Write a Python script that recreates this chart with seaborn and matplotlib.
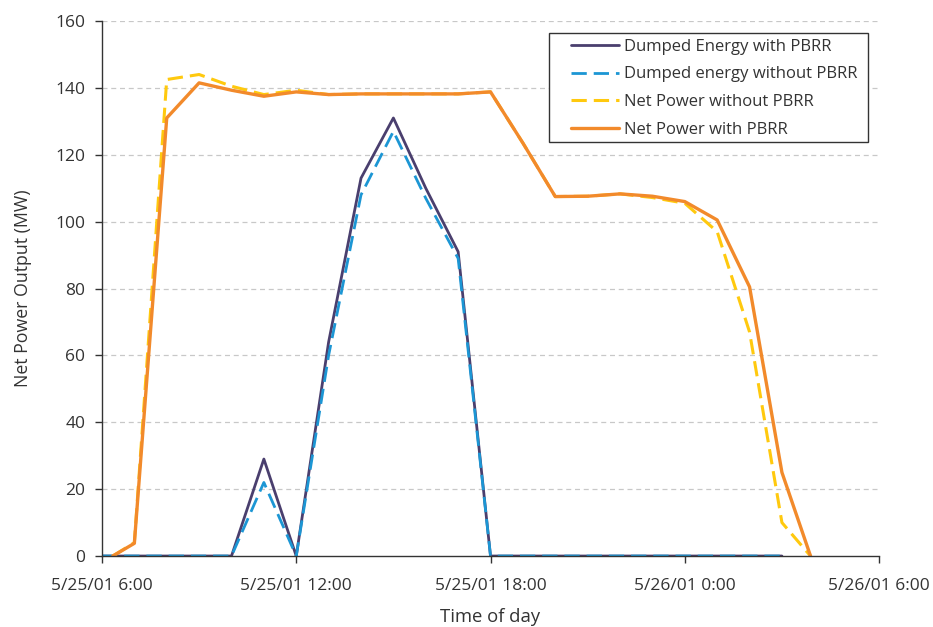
import pandas as pd
import numpy as np
import matplotlib.pyplot as plt
import seaborn as sns
from matplotlib.patches import Rectangle

# hourly samples, 5/25/01 6:00 .. 5/26/01 3:00
dump_times = pd.date_range("2001-05-25 06:00", "2001-05-26 03:00", freq="h")
dumped_with = [0, 0, 0, 0, 0, 29, 0, 64, 113, 131, 110, 91, 0,
               0, 0, 0, 0, 0, 0, 0, 0, 0]
dumped_without = [0, 0, 0, 0, 0, 22, 0, 60, 108, 127, 107, 89, 0,
                  0, 0, 0, 0, 0, 0, 0, 0, 0]

net_times = pd.to_datetime([
    "2001-05-25 06:20", "2001-05-25 07:00", "2001-05-25 08:00", "2001-05-25 09:00",
    "2001-05-25 10:00", "2001-05-25 11:00", "2001-05-25 12:00", "2001-05-25 13:00",
    "2001-05-25 14:00", "2001-05-25 15:00", "2001-05-25 16:00", "2001-05-25 17:00",
    "2001-05-25 18:00", "2001-05-25 19:00", "2001-05-25 20:00", "2001-05-25 21:00",
    "2001-05-25 22:00", "2001-05-25 23:00", "2001-05-26 00:00", "2001-05-26 01:00",
    "2001-05-26 02:00", "2001-05-26 03:00", "2001-05-26 03:53",
])
net_without = [0, 4, 142.5, 144, 140.5, 138, 139.3, 138, 138.2, 138.2, 138.2, 138.2,
               138.8, 123.5, 107.5, 107.6, 108.3, 107.2, 105.5, 97, 67, 10, 0]
net_with = [0, 3.8, 131, 141.5, 139.3, 137.5, 138.8, 138, 138.2, 138.2, 138.2, 138.2,
            138.8, 123.5, 107.5, 107.6, 108.3, 107.6, 106, 100.5, 80.5, 25, 0]

tick_times = pd.date_range("2001-05-25 06:00", "2001-05-26 06:00", freq="6h")
tick_labels = ["5/25/01 6:00", "5/25/01 12:00", "5/25/01 18:00",
               "5/26/01 0:00", "5/26/01 6:00"]

sns.set_style("white")
plt.rcParams['font.family'] = ['Open Sans', 'DejaVu Sans']

W, H = 933, 627
fig = plt.figure(figsize=(W / 100, H / 100), dpi=100)
ax = fig.add_axes([0.1093, 0.1132, 0.8329, 0.8533])

for y in range(20, 161, 20):
    ax.axhline(y, color="#c8c8c8", lw=0.9, ls=(0, (4, 3)), zorder=0)

sns.lineplot(x=dump_times, y=dumped_with, ax=ax, color="#4a3f6e", lw=2.0,
             label="Dumped Energy with PBRR")
sns.lineplot(x=dump_times, y=dumped_without, ax=ax, color="#1c96d4", lw=2.0,
             label="Dumped energy without PBRR")
ax.lines[-1].set_dashes((5.5, 2.5))
sns.lineplot(x=net_times, y=net_without, ax=ax, color="#ffc90e", lw=2.2,
             label="Net Power without PBRR")
ax.lines[-1].set_dashes((5, 2.3))
sns.lineplot(x=net_times, y=net_with, ax=ax, color="#f28a2b", lw=2.4,
             label="Net Power with PBRR")

ax.set_xlim(tick_times[0], tick_times[-1])
ax.set_ylim(0, 160)
ax.set_xticks(tick_times)
ax.set_xticklabels(tick_labels)
ax.set_yticks(range(0, 161, 20))

for s in ["top", "right"]:
    ax.spines[s].set_visible(False)
for s in ["left", "bottom"]:
    ax.spines[s].set_color("#333333")
    ax.spines[s].set_linewidth(1.0)

ax.tick_params(axis="both", which="major", length=5, width=1.0, color="#333333",
               labelsize=12.5, labelcolor="#333333", pad=7, direction="out",
               bottom=True, left=True)
ax.tick_params(axis="x", pad=11)

ax.set_xlabel("Time of day", fontsize=13.3, color="#333333", labelpad=10)
ax.set_ylabel("Net Power Output (MW)", fontsize=12.8, color="#333333", labelpad=17)

# legend frame drawn separately so its padding matches the original
frame = Rectangle((549 / W, 1 - 142 / H), 319 / W, 109 / H,
                  transform=fig.transFigure, facecolor="white",
                  edgecolor="#333333", lw=1.0, zorder=5, clip_on=False)
ax.add_patch(frame)
leg = ax.legend(loc="upper left", bbox_to_anchor=(571 / W, 1 - 39 / H),
                bbox_transform=fig.transFigure, frameon=False,
                fontsize=12, handlelength=2.9, handletextpad=0.3,
                borderpad=0, labelspacing=0.69, borderaxespad=0)
leg.set_zorder(6)
for t in leg.get_texts():
    t.set_color("#333333")

fig.savefig("out.png", dpi=100)
